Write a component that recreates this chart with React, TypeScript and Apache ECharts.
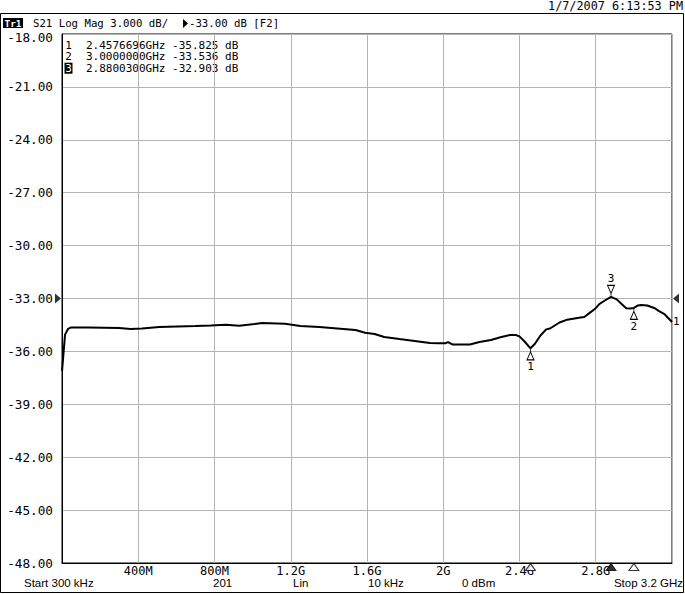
import React, { useEffect, useRef } from "react";
import * as echarts from "echarts";

// Trace S21 (GHz, dB)
const freqGHz = [
  0.0003, 0.016, 0.032, 0.048, 0.14, 0.3, 0.36, 0.42, 0.51, 0.7, 0.78, 0.86, 0.93, 1.01, 1.05, 1.17, 1.25,
  1.35, 1.46, 1.54, 1.59, 1.64, 1.69, 1.77, 1.88, 1.93, 1.98, 2.01, 2.025, 2.05, 2.14, 2.19, 2.25, 2.3,
  2.35, 2.38, 2.4, 2.43, 2.4576696, 2.48, 2.51, 2.54, 2.56, 2.61, 2.65, 2.72, 2.74, 2.77, 2.8, 2.82, 2.85,
  2.88003, 2.91, 2.94, 2.96, 2.98, 3.0, 3.02, 3.04, 3.07, 3.11, 3.13, 3.16, 3.2,
];
const s21dB = [
  -37.1, -35.05, -34.72, -34.64, -34.64, -34.67, -34.73, -34.7, -34.62, -34.56, -34.53, -34.49, -34.54,
  -34.45, -34.39, -34.43, -34.56, -34.62, -34.71, -34.79, -34.94, -35.01, -35.18, -35.3, -35.45, -35.52,
  -35.54, -35.54, -35.47, -35.61, -35.61, -35.47, -35.35, -35.2, -35.07, -35.07, -35.15, -35.48, -35.825,
  -35.58, -35.1, -34.75, -34.7, -34.36, -34.2, -34.08, -34.05, -33.8, -33.55, -33.3, -33.1, -32.903,
  -33.05, -33.35, -33.55, -33.57, -33.536, -33.4, -33.37, -33.4, -33.55, -33.7, -33.88, -34.33,
];

const markerIds = ["1", "2", "3"];
const markerFreqGHz = [2.4576696, 3.0, 2.88003];
const markerDb = [-35.825, -33.536, -32.903];
const activeMarker = 2;

const yMin = -48;
const yMax = -18;
const yStep = 3;
const xMin = 0;
const xMax = 3.2;
const xStep = 0.4;
const refLevel = -33;

const headerText = "S21 Log Mag 3.000 dB/";
const headerRef = "-33.00 dB [F2]";
const dateText = "1/7/2007 6:13:53 PM";
const bottomTexts = ["Start 300 kHz", "201", "Lin", "10 kHz", "0 dBm", "Stop 3.2 GHz"];

const MONO = '"DejaVu Sans Mono", monospace';
const SANS = '"Liberation Sans", Arial, sans-serif';

export default function App() {
  const ref = useRef<HTMLDivElement>(null);

  useEffect(() => {
    const chart = echarts.init(ref.current!, null, { renderer: "svg" });

    const markerUp = "path://M5,0 L5,3 M5,3 L0,11 L10,11 Z";
    const markerDown = "path://M0,0 L10,0 L5,8 Z M5,8 L5,11";

    const tableRows = markerIds.map((id, i) => {
      const f = markerFreqGHz[i].toFixed(7);
      const v = markerDb[i].toFixed(3);
      return `${f}GHz ${v} dB`;
    });

    const bottomX = [24, 213, 293, 368, 462, 683];
    const rowY = (i: number) => 45 + i * 11.6;
    const rowFont = 11;

    const graphic: any[] = [
      {
        type: "rect",
        shape: { x: 0.5, y: 13.5, width: 683, height: 579 },
        style: { fill: "none", stroke: "#000", lineWidth: 1 },
        silent: true,
      },
      {
        type: "text",
        x: 683,
        y: 6,
        style: { text: dateText, fill: "#000", fontSize: 11.8, fontFamily: MONO, align: "right", verticalAlign: "middle" },
      },
      {
        type: "rect",
        shape: { x: 3, y: 18, width: 20, height: 10 },
        style: { fill: "#000" },
      },
      {
        type: "text",
        x: 13,
        y: 23,
        style: { text: "Tr1", fill: "#fff", fontSize: 9.5, fontWeight: "bold", fontFamily: MONO, align: "center", verticalAlign: "middle" },
      },
      {
        type: "text",
        x: 33,
        y: 23,
        style: { text: headerText, fill: "#000", fontSize: 10.7, fontFamily: MONO, align: "left", verticalAlign: "middle" },
      },
      {
        type: "polygon",
        shape: { points: [[183, 19], [188, 23.5], [183, 28]] },
        style: { fill: "#000" },
      },
      {
        type: "text",
        x: 189,
        y: 23,
        style: { text: headerRef, fill: "#000", fontSize: 10.7, fontFamily: MONO, align: "left", verticalAlign: "middle" },
      },
      {
        type: "rect",
        shape: { x: 64.5, y: rowY(activeMarker) - 5.5, width: 8, height: 11 },
        style: { fill: "#000" },
      },
      ...markerIds.map((id, i) => ({
        type: "text",
        x: 68.5,
        y: rowY(i),
        style: {
          text: id,
          fill: i === activeMarker ? "#fff" : "#000",
          fontSize: rowFont,
          fontFamily: MONO,
          align: "center",
          verticalAlign: "middle",
        },
      })),
      ...tableRows.map((t, i) => ({
        type: "text",
        x: 86,
        y: rowY(i),
        style: { text: t, fill: "#000", fontSize: rowFont, fontFamily: MONO, align: "left", verticalAlign: "middle" },
      })),
      ...bottomTexts.map((t, i) => ({
        type: "text",
        x: bottomX[i],
        y: 583,
        style: {
          text: t,
          fill: "#000",
          fontSize: 11.5,
          fontFamily: SANS,
          align: i === bottomTexts.length - 1 ? "right" : "left",
          verticalAlign: "middle",
        },
      })),
    ];

    const option: any = {
      animation: false,
      backgroundColor: "#fff",
      grid: {
        left: 62,
        top: 34,
        width: 610,
        height: 529,
        show: true,
        borderColor: "#000",
        borderWidth: 1,
        backgroundColor: "transparent",
      },
      xAxis: {
        type: "value",
        min: xMin,
        max: xMax,
        interval: xStep,
        axisLine: { show: true, lineStyle: { color: "#000", width: 1 } },
        axisTick: { show: false },
        splitLine: { show: true, lineStyle: { color: "#b4b4b4", width: 1 } },
        axisLabel: {
          showMinLabel: false,
          showMaxLabel: false,
          margin: 2,
          color: "#000",
          fontSize: 12,
          fontFamily: MONO,
          formatter: (v: number) => (v < 1 ? `${Math.round(v * 1000)}M` : `${+v.toFixed(1)}G`),
        },
      },
      yAxis: {
        type: "value",
        min: yMin,
        max: yMax,
        interval: yStep,
        axisLine: { show: true, lineStyle: { color: "#000", width: 1 } },
        axisTick: { show: false },
        splitLine: { show: true, lineStyle: { color: "#b4b4b4", width: 1 } },
        axisLabel: {
          margin: 9,
          color: "#000",
          fontSize: 12.7,
          fontFamily: MONO,
          formatter: (v: number) => (v === yMax ? `{top|${v.toFixed(2)}}` : v.toFixed(2)),
          rich: {
            top: { fontSize: 12.7, fontFamily: MONO, color: "#000", padding: [6, 0, 0, 0] },
          },
        },
      },
      graphic,
      series: [
        {
          type: "line",
          data: freqGHz.map((f, i) => [f, s21dB[i]]),
          showSymbol: false,
          symbol: "none",
          lineStyle: { color: "#000", width: 2 },
          z: 3,
          endLabel: {
            show: true,
            formatter: "1",
            distance: 1,
            color: "#000",
            fontSize: 11,
            fontFamily: MONO,
          },
          markPoint: {
            silent: true,
            itemStyle: { color: "#fff", borderColor: "#000", borderWidth: 1 },
            label: { color: "#000", fontSize: 11, fontFamily: MONO, distance: 1 },
            data: markerIds.map((id, i) => {
              const up = id === "3";
              return {
                coord: [markerFreqGHz[i], markerDb[i]],
                symbol: up ? markerDown : markerUp,
                symbolSize: [7, 11],
                symbolOffset: [0, up ? -6 : 6],
                label: { show: true, formatter: id, position: up ? "top" : "bottom" },
              };
            }),
          },
        },
        {
          type: "scatter",
          clip: false,
          silent: true,
          z: 5,
          symbol: "triangle",
          symbolSize: [10, 7],
          symbolOffset: [0, 4],
          data: markerFreqGHz.map((f, i) => ({
            value: [f, yMin],
            itemStyle: {
              color: i === activeMarker ? "#000" : "#fff",
              borderColor: "#000",
              borderWidth: 1,
            },
          })),
        },
        {
          type: "scatter",
          clip: false,
          silent: true,
          z: 5,
          itemStyle: { color: "#000" },
          data: [
            { value: [xMin, refLevel], symbol: "path://M0,0 L10,5 L0,10 Z", symbolSize: [6, 10], symbolOffset: [-4, 0] },
            { value: [xMax, refLevel], symbol: "path://M10,0 L0,5 L10,10 Z", symbolSize: [6, 10], symbolOffset: [4, 0] },
          ],
        },
      ],
    };

    chart.setOption(option);
    return () => chart.dispose();
  }, []);

  return (
    <div
      ref={ref}
      style={{ position: "fixed", left: 0, top: 0, width: 685, height: 594, background: "#fff" }}
    />
  );
}
